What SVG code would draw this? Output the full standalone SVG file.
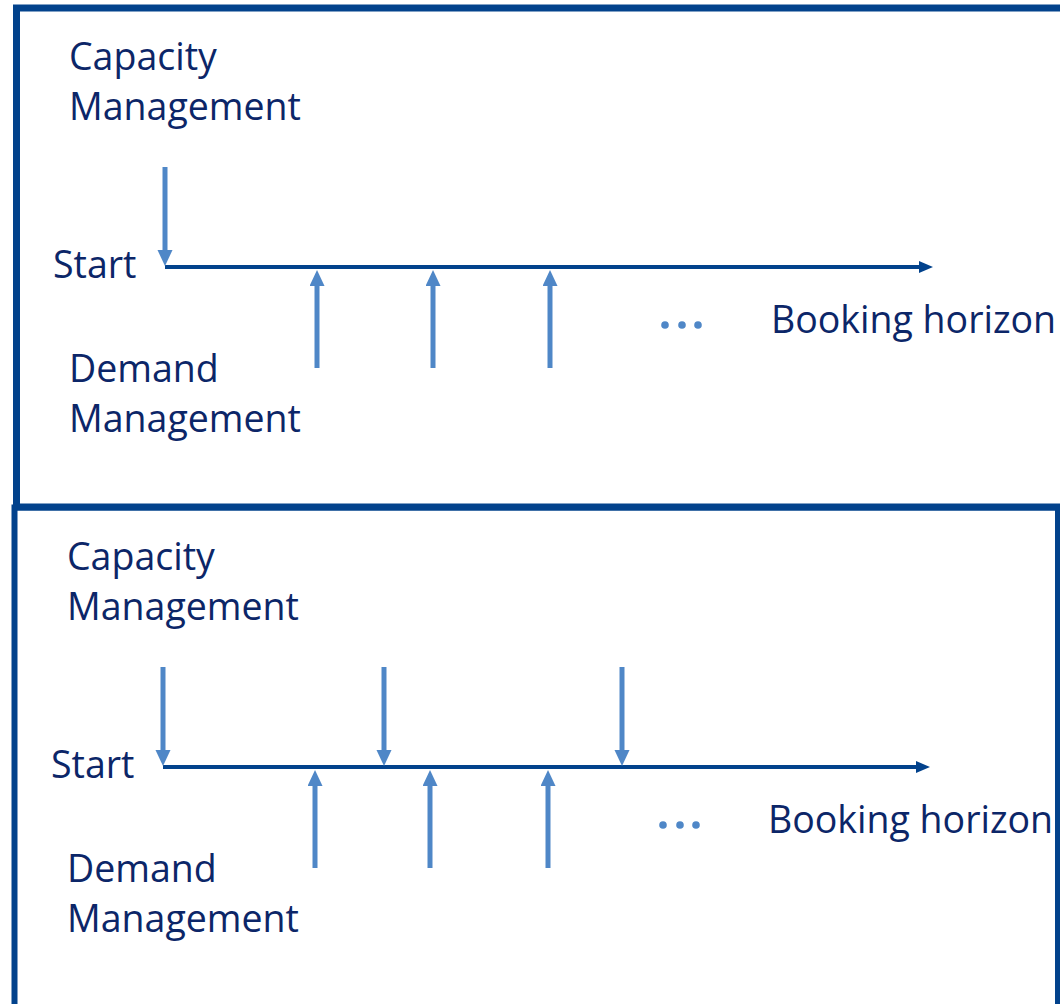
<svg xmlns="http://www.w3.org/2000/svg" width="1060" height="1004" viewBox="0 0 1060 1004">
  <style>
    .frame { fill: none; stroke: #02428C; stroke-width: 7; }
    .label { font-family: "Open Sans", "Liberation Sans", sans-serif; font-size: 37.5px; fill: #0C2668; }
    .axis { fill: none; stroke: #02428C; stroke-width: 4; marker-end: url(#axisHead); }
    .cap { fill: none; stroke: #4F87C7; stroke-width: 5; marker-end: url(#lightHead); }
    .dem { fill: none; stroke: #4F87C7; stroke-width: 5; marker-end: url(#lightHead); }
    .dot { fill: #4F87C7; }
  </style>
  <defs>
    <marker id="lightHead" markerUnits="userSpaceOnUse" markerWidth="18" markerHeight="16" refX="2" refY="7.5" orient="auto">
      <path d="M0,0 L16,7.5 L0,15 z" fill="#4F87C7"/>
    </marker>
    <marker id="axisHead" markerUnits="userSpaceOnUse" markerWidth="16" markerHeight="13" refX="2" refY="6" orient="auto">
      <path d="M0,0 L14,6 L0,12 z" fill="#02428C"/>
    </marker>
  </defs>

  <rect width="1060" height="1004" fill="#FFFFFF"/>

  <!-- upper panel: capacity decided once at the start -->
  <g id="panel-top">
    <path class="frame" d="M1070,8 H16.5 V507 H1070"/>
    <g id="top-capacity-label">
      <text class="label" x="69" y="70">Capacity</text>
      <text class="label" x="69" y="120">Management</text>
    </g>
    <g id="top-start-label">
      <text class="label" x="53" y="278">Start</text>
    </g>
    <g id="top-demand-label">
      <text class="label" x="69" y="382">Demand</text>
      <text class="label" x="69" y="432">Management</text>
    </g>
    <g id="top-horizon-label">
      <text class="label" x="771" y="333">Booking horizon</text>
    </g>
    <g id="top-dots">
      <circle class="dot" cx="665" cy="325" r="3.8"/>
      <circle class="dot" cx="682" cy="325" r="3.8"/>
      <circle class="dot" cx="698" cy="325" r="3.8"/>
    </g>
  </g>

  <!-- lower panel: capacity revised repeatedly along the horizon -->
  <g id="panel-bottom">
    <path class="frame" style="stroke-width:6" d="M14.5,1010 V507.5 H1058 V1010"/>
    <g id="bottom-capacity-label">
      <text class="label" x="67" y="570">Capacity</text>
      <text class="label" x="67" y="620">Management</text>
    </g>
    <g id="bottom-start-label">
      <text class="label" x="51" y="778">Start</text>
    </g>
    <g id="bottom-demand-label">
      <text class="label" x="67" y="882">Demand</text>
      <text class="label" x="67" y="932">Management</text>
    </g>
    <g id="bottom-horizon-label">
      <text class="label" x="768" y="833">Booking horizon</text>
    </g>
    <g id="bottom-dots">
      <circle class="dot" cx="663" cy="825" r="3.8"/>
      <circle class="dot" cx="680" cy="825" r="3.8"/>
      <circle class="dot" cx="696" cy="825" r="3.8"/>
    </g>
  </g>

  <g id="connectors">
    <!-- upper panel -->
    <path class="axis" d="M165,267 H921"/>
    <path class="cap" d="M165,167 V252"/>
    <path class="dem" d="M317,368 V284"/>
    <path class="dem" d="M433,368 V284"/>
    <path class="dem" d="M550,368 V284"/>
    <!-- lower panel -->
    <path class="axis" d="M163,767 H918"/>
    <path class="cap" d="M163,667 V752"/>
    <path class="cap" d="M384,667 V752"/>
    <path class="cap" d="M622,667 V752"/>
    <path class="dem" d="M315,868 V784"/>
    <path class="dem" d="M430,868 V784"/>
    <path class="dem" d="M548,868 V784"/>
  </g>
</svg>
